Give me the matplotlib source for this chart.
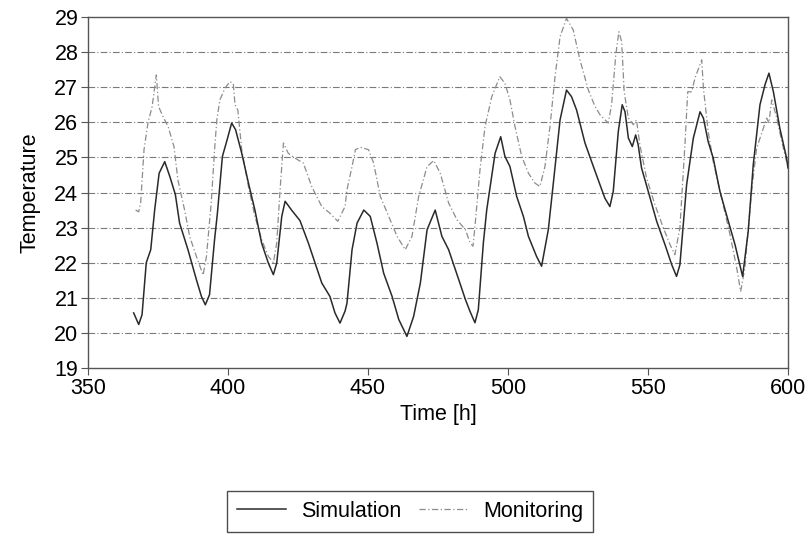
import matplotlib
matplotlib.use("Agg")
import matplotlib.pyplot as plt

plt.rcParams['font.family'] = ['Liberation Sans', 'DejaVu Sans']

# Simulation (solid)
sim_t = [366.3, 368.1, 369.3, 370.8, 372.4, 373.8, 375.4, 377.4, 379.2, 381.2, 382.7,
         385.7, 388.7, 390.5, 391.9, 393.4, 395.2, 396.2, 398.0, 399.5, 401.3, 402.7,
         404.9, 407.3, 409.6, 412.0, 414.4, 416.2, 417.4, 419.2, 420.4, 422.7, 425.7,
         428.7, 431.1, 433.5, 436.4, 438.2, 440.0, 441.8, 442.5, 444.3, 446.1, 448.5,
         450.8, 453.2, 455.6, 458.6, 461.0, 463.9, 466.3, 468.7, 471.1, 474.0, 476.4,
         478.8, 482.4, 484.8, 486.4, 488.2, 489.4, 491.2, 492.4, 495.4, 497.4, 498.9,
         500.7, 503.1, 505.5, 507.3, 510.2, 512.0, 514.4, 516.2, 518.6, 520.9, 522.7,
         524.5, 527.5, 530.5, 533.5, 534.6, 536.4, 537.6, 539.4, 540.8, 541.8, 543.0,
         544.4, 545.6, 546.5, 547.7, 550.1, 553.1, 556.1, 558.5, 560.2, 561.4, 563.8,
         566.2, 568.6, 569.8, 571.5, 573.3, 575.7, 578.7, 581.1, 583.8, 585.8, 587.6,
         590.0, 591.8, 593.2, 594.8, 597.1, 599.5, 600.0]
sim_T = [20.57, 20.24, 20.52, 22.0, 22.37, 23.5, 24.55, 24.88, 24.46, 23.94, 23.13,
         22.37, 21.52, 21.04, 20.8, 21.09, 22.66, 23.4, 25.03, 25.45, 25.98, 25.79,
         25.12, 24.27, 23.5, 22.56, 21.99, 21.66, 21.99, 23.32, 23.75, 23.5, 23.2,
         22.56, 21.99, 21.42, 21.04, 20.57, 20.28, 20.62, 20.85, 22.37, 23.13, 23.5,
         23.32, 22.56, 21.7, 21.04, 20.38, 19.9, 20.47, 21.42, 22.94, 23.5, 22.75,
         22.37, 21.52, 20.95, 20.62, 20.29, 20.66, 22.56, 23.5, 25.12, 25.59, 25.03,
         24.74, 23.89, 23.32, 22.75, 22.18, 21.9, 22.94, 24.27, 26.07, 26.92, 26.73,
         26.35, 25.41, 24.74, 24.08, 23.84, 23.6, 24.03, 25.74, 26.5, 26.3, 25.55,
         25.31, 25.64, 25.36, 24.7, 24.03, 23.18, 22.51, 21.94, 21.61, 21.94, 24.22,
         25.55, 26.3, 26.12, 25.45, 24.98, 24.03, 23.18, 22.51, 21.61, 22.89, 24.79,
         26.5, 27.07, 27.4, 26.87, 25.83, 24.98, 24.7]

# Monitoring (dash-dot)
mon_t = [367.0, 368.1, 368.8, 370.0, 371.4, 372.9, 374.4, 375.2, 376.8, 378.6, 380.7,
         382.1, 384.5, 386.3, 388.7, 391.1, 392.3, 394.0, 395.2, 396.0, 397.1, 398.9,
         400.7, 401.9, 402.5, 403.5, 404.9, 407.3, 409.6, 412.0, 414.4, 416.2, 417.4,
         418.6, 419.8, 421.5, 423.9, 426.9, 429.9, 433.5, 436.4, 439.2, 441.8, 442.5,
         444.3, 445.5, 447.3, 450.2, 452.0, 454.4, 457.4, 460.4, 463.3, 465.7, 468.1,
         471.1, 473.5, 475.8, 478.8, 481.8, 484.8, 486.5, 487.5, 488.2, 490.0, 491.8,
         494.2, 497.1, 498.9, 500.7, 502.5, 504.9, 507.3, 509.6, 511.4, 513.2, 515.0,
         516.8, 518.6, 520.9, 523.3, 525.7, 528.7, 531.1, 532.9, 535.8, 537.0, 538.5,
         539.6, 540.6, 541.5, 543.0, 544.8, 545.9, 547.1, 549.5, 552.5, 555.5, 557.9,
         559.6, 561.4, 563.2, 564.2, 565.6, 566.8, 569.2, 569.8, 571.5, 573.3, 576.3,
         579.3, 581.7, 583.1, 584.6, 587.0, 588.8, 591.2, 592.4, 593.2, 594.2, 596.0,
         597.8, 599.5]
mon_T = [23.5, 23.45, 23.7, 25.22, 25.98, 26.45, 27.35, 26.45, 26.16, 25.88, 25.31,
         24.36, 23.5, 22.75, 22.18, 21.65, 22.18, 23.7, 25.22, 26.07, 26.64, 26.97,
         27.16, 27.1, 26.5, 26.35, 25.22, 24.17, 23.32, 22.66, 22.18, 22.0, 22.56,
         24.08, 25.41, 25.12, 24.98, 24.84, 24.17, 23.6, 23.41, 23.18, 23.6, 24.08,
         24.74, 25.22, 25.29, 25.22, 24.84, 23.89, 23.32, 22.75, 22.37, 22.75, 23.89,
         24.74, 24.91, 24.55, 23.7, 23.22, 22.94, 22.56, 22.47, 23.03, 24.65, 25.88,
         26.73, 27.3, 27.11, 26.64, 25.88, 25.03, 24.55, 24.27, 24.17, 24.74, 25.88,
         27.3, 28.44, 28.96, 28.63, 27.78, 26.92, 26.45, 26.21, 25.98, 26.5, 27.92,
         28.58, 28.3, 26.87, 26.12, 25.93, 26.07, 25.36, 24.41, 23.65, 22.99, 22.51,
         22.23, 22.99, 25.36, 26.87, 26.87, 27.26, 27.78, 26.97, 25.74, 24.88, 23.84,
         22.8, 21.85, 21.18, 21.85, 24.03, 25.26, 25.83, 26.12, 25.98, 26.64, 26.12,
         25.45, 24.88]

x_ticks = [350, 400, 450, 500, 550, 600]
y_ticks = list(range(19, 30))

fig = plt.figure(figsize=(8.12, 5.4), dpi=100)
ax = fig.add_axes([0.1084, 0.3185, 0.862, 0.65])

for y in range(20, 29):
    ax.axhline(y, color='#7a7a7a', lw=0.8, ls=(0, (6, 2, 1, 2)), zorder=1)

ax.plot(sim_t, sim_T, color='#2a2a2a', lw=1.1, label='Simulation', zorder=3)
ax.plot(mon_t, mon_T, color='#8c8c8c', lw=0.9, ls=(0, (5, 2, 1, 2)),
        label='Monitoring', zorder=2)

ax.set_xlim(350, 600)
ax.set_ylim(19, 29)
ax.set_xticks(x_ticks)
ax.set_yticks(y_ticks)
ax.tick_params(labelsize=15.5, direction='out', length=5, width=0.8, color='#555555',
               pad=2)
for s in ax.spines.values():
    s.set_color('#555555')
    s.set_linewidth(1.0)

ax.set_xlabel('Time [h]', fontsize=15.5, labelpad=4)
ax.set_ylabel('Temperature', fontsize=15.5, labelpad=10)

leg = fig.legend(loc='center', bbox_to_anchor=(0.505, 0.053), ncol=2, fontsize=15.5,
                 frameon=True, fancybox=False, handlelength=2.3, columnspacing=0.8,
                 handletextpad=0.7, borderpad=0.45)
leg.get_frame().set_edgecolor('#222222')
leg.get_frame().set_linewidth(1.0)

fig.savefig('out.png', dpi=100)
